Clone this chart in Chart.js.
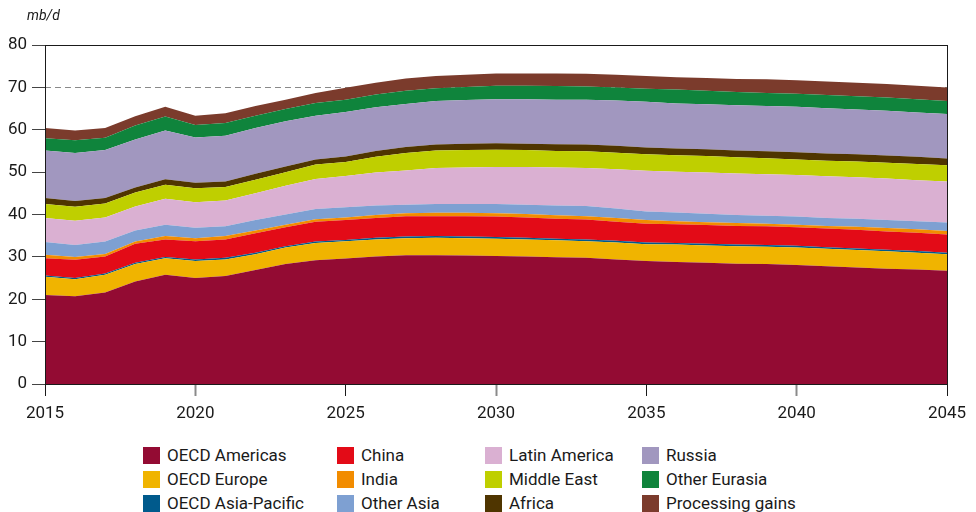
<!DOCTYPE html>
<html>
<head>
<meta charset="utf-8">
<script src="https://cdn.jsdelivr.net/npm/chart.js@4/dist/chart.umd.min.js"></script>
<style>
  body { margin: 0; background: #fff; font-family: Roboto, sans-serif; color: #1a1a1a; }
  #wrap { position: relative; width: 976px; height: 512px; }
  #chart { position: absolute; left: 0; top: 0; }
  #unit { position: absolute; left: 27px; top: 7px; font-size: 14px; font-style: italic; }
  .lg { position: absolute; display: flex; align-items: center; font-size: 17px; white-space: nowrap; }
  .lg span.sw { display: inline-block; width: 17px; height: 17px; margin-right: 7px; }
</style>
</head>
<body>
<div id="wrap">
  <canvas id="chart" width="976" height="440"></canvas>
  <div id="unit">mb/d</div>
  <div id="legend"></div>
</div>
<script>
// ─── DATA (mb/d) ───────────────────────────────────────────────────────────────
const years = [2015, 2016, 2017, 2018, 2019, 2020, 2021, 2022, 2023, 2024, 2025,
               2026, 2027, 2028, 2029, 2030, 2031, 2032, 2033, 2034, 2035,
               2036, 2037, 2038, 2039, 2040, 2041, 2042, 2043, 2044, 2045];

const oecdAmericas   = [21.0, 20.7, 21.6, 24.2, 25.8, 25.0, 25.5, 26.9, 28.3, 29.2, 29.6, 30.1, 30.4, 30.4, 30.3, 30.2, 30.1, 29.9, 29.8, 29.4, 29.0, 28.8, 28.6, 28.4, 28.3, 28.1, 27.8, 27.5, 27.2, 27.0, 26.7];
const oecdEurope     = [4.3, 4.0, 4.2, 4.1, 3.9, 4.0, 3.9, 3.7, 3.9, 4.1, 4.1, 4.0, 4.0, 4.1, 4.1, 4.1, 4.0, 4.0, 3.9, 4.0, 4.0, 4.1, 4.1, 4.1, 4.1, 4.1, 4.1, 4.1, 4.1, 4.0, 3.9];
const oecdAsiaPac    = [0.3, 0.3, 0.3, 0.3, 0.3, 0.4, 0.4, 0.4, 0.3, 0.3, 0.3, 0.4, 0.4, 0.4, 0.4, 0.4, 0.4, 0.4, 0.4, 0.4, 0.4, 0.4, 0.4, 0.4, 0.4, 0.4, 0.4, 0.4, 0.4, 0.4, 0.4];
const china          = [4.1, 4.3, 4.0, 4.5, 4.1, 4.3, 4.3, 4.6, 4.5, 4.7, 4.7, 4.7, 4.8, 4.7, 4.8, 4.8, 4.8, 4.7, 4.7, 4.5, 4.4, 4.4, 4.4, 4.4, 4.4, 4.4, 4.4, 4.4, 4.3, 4.3, 4.3];
const india          = [0.8, 0.7, 0.6, 0.5, 0.8, 0.7, 0.8, 0.6, 0.6, 0.6, 0.6, 0.7, 0.7, 0.8, 0.8, 0.8, 0.8, 0.8, 0.8, 0.9, 0.9, 0.7, 0.7, 0.7, 0.6, 0.6, 0.6, 0.7, 0.8, 0.8, 0.8];
const otherAsia      = [3.0, 2.8, 2.9, 2.6, 2.7, 2.5, 2.3, 2.5, 2.4, 2.4, 2.4, 2.2, 2.0, 2.1, 2.1, 2.2, 2.2, 2.3, 2.4, 2.2, 2.0, 2.1, 2.0, 1.9, 1.9, 1.9, 1.9, 1.9, 1.9, 1.9, 2.0];
const latinAmerica   = [5.7, 5.7, 5.7, 5.7, 6.1, 6.0, 6.1, 6.3, 6.8, 7.1, 7.4, 7.8, 8.1, 8.5, 8.6, 8.7, 8.9, 9.0, 9.0, 9.3, 9.6, 9.6, 9.7, 9.8, 9.8, 9.8, 9.8, 9.8, 9.8, 9.7, 9.7];
const middleEast     = [3.3, 3.3, 3.3, 3.3, 3.3, 3.3, 3.2, 3.2, 3.2, 3.4, 3.3, 3.7, 4.1, 4.1, 4.1, 4.1, 4.0, 3.9, 3.9, 3.9, 3.9, 3.9, 3.9, 3.8, 3.8, 3.7, 3.7, 3.7, 3.7, 3.8, 3.8];
const africa         = [1.4, 1.4, 1.3, 1.2, 1.3, 1.3, 1.3, 1.4, 1.3, 1.2, 1.3, 1.4, 1.4, 1.4, 1.5, 1.5, 1.5, 1.6, 1.6, 1.6, 1.6, 1.6, 1.6, 1.6, 1.6, 1.7, 1.7, 1.7, 1.7, 1.7, 1.6];
const russia         = [11.2, 11.3, 11.3, 11.3, 11.5, 10.7, 10.8, 10.8, 10.7, 10.3, 10.5, 10.3, 10.2, 10.3, 10.3, 10.4, 10.5, 10.5, 10.6, 10.7, 10.8, 10.6, 10.6, 10.7, 10.7, 10.7, 10.7, 10.6, 10.6, 10.5, 10.5];
const otherEurasia   = [2.9, 3.0, 2.9, 3.3, 3.3, 2.9, 3.0, 2.9, 2.9, 3.0, 2.9, 3.0, 3.1, 3.0, 3.1, 3.2, 3.2, 3.2, 3.1, 3.1, 3.1, 3.3, 3.2, 3.1, 3.1, 3.1, 3.1, 3.1, 3.1, 3.1, 3.1];
const processingGain = [2.4, 2.3, 2.3, 2.2, 2.3, 2.2, 2.3, 2.3, 2.2, 2.4, 2.8, 2.8, 2.9, 2.9, 2.9, 2.9, 2.9, 3.0, 3.0, 3.0, 3.0, 2.9, 3.0, 3.1, 3.2, 3.2, 3.2, 3.2, 3.2, 3.2, 3.2];

const yTicks = [0, 10, 20, 30, 40, 50, 60, 70, 80];
const xTicks = [2015, 2020, 2025, 2030, 2035, 2040, 2045];
const dashedAt = 70;

// ─── SERIES (stack order, bottom → top) ───────────────────────────────────────
const series = [
    { label: 'OECD Americas',     data: oecdAmericas,   color: '#930b33' },
    { label: 'OECD Europe',       data: oecdEurope,     color: '#f0b400' },
    { label: 'OECD Asia-Pacific', data: oecdAsiaPac,    color: '#005a8c' },
    { label: 'China',             data: china,          color: '#e30b17' },
    { label: 'India',             data: india,          color: '#f28c00' },
    { label: 'Other Asia',        data: otherAsia,      color: '#7ea0d2' },
    { label: 'Latin America',     data: latinAmerica,   color: '#dab0d2' },
    { label: 'Middle East',       data: middleEast,     color: '#bfcf00' },
    { label: 'Africa',            data: africa,         color: '#4f3500' },
    { label: 'Russia',            data: russia,         color: '#a197bf' },
    { label: 'Other Eurasia',     data: otherEurasia,   color: '#0f843c' },
    { label: 'Processing gains',  data: processingGain, color: '#7b3b2c' },
];

// legend is laid out in columns, 3 rows each
const legendCols = [143, 337, 485, 642];
const legendRows = [445, 469, 493];
const legendOrder = [
    ['OECD Americas', 'OECD Europe', 'OECD Asia-Pacific'],
    ['China', 'India', 'Other Asia'],
    ['Latin America', 'Middle East', 'Africa'],
    ['Russia', 'Other Eurasia', 'Processing gains'],
];

// ─── PLUGINS ──────────────────────────────────────────────────────────────────
const framePlugin = {
    id: 'frame',
    beforeDatasetsDraw(chart) {
        const { ctx, chartArea: a, scales } = chart;
        const y = Math.round(scales.y.getPixelForValue(dashedAt)) + 0.5;
        ctx.save();
        ctx.strokeStyle = '#8a8a8a';
        ctx.lineWidth = 1;
        ctx.setLineDash([6, 4]);
        ctx.beginPath();
        ctx.moveTo(a.left, y);
        ctx.lineTo(a.right, y);
        ctx.stroke();
        ctx.restore();
    },
    afterDatasetsDraw(chart) {
        const { ctx, chartArea: a } = chart;
        ctx.save();
        ctx.strokeStyle = '#1a1a1a';
        ctx.lineWidth = 1;
        ctx.strokeRect(Math.round(a.left) + 0.5, Math.round(a.top) + 0.5,
                       Math.round(a.right - a.left), Math.round(a.bottom - a.top));
        ctx.restore();
    },
};

// ─── CHART ────────────────────────────────────────────────────────────────────
const ctx = document.getElementById('chart').getContext('2d');

new Chart(ctx, {
    type: 'line',
    data: {
        datasets: series.map((s, i) => ({
            label: s.label,
            data: years.map((yr, j) => ({ x: yr, y: s.data[j] })),
            backgroundColor: s.color,
            borderColor: s.color,
            borderWidth: 0,
            pointRadius: 0,
            tension: 0,
            fill: i === 0 ? 'origin' : '-1',
        })),
    },
    options: {
        responsive: false,
        animation: false,
        layout: { padding: { top: 45, right: 29, left: 0, bottom: 0 } },
        plugins: { legend: { display: false }, tooltip: { enabled: false } },
        scales: {
            x: {
                type: 'linear',
                min: 2015,
                max: 2045,
                afterBuildTicks: (s) => { s.ticks = xTicks.map(v => ({ value: v })); },
                afterFit: (s) => { s.height = 56; },
                border: { display: false },
                grid: {
                    drawOnChartArea: false,
                    tickLength: 12,
                    tickColor: (c) => (c.tick && c.tick.value % 10 === 0 && c.tick.value !== 2045 ? '#8a8a8a' : '#1a1a1a'),
                    tickWidth: (c) => (c.tick && c.tick.value % 10 === 0 && c.tick.value !== 2045 ? 2 : 1),
                },
                ticks: {
                    color: '#1a1a1a',
                    font: { family: 'Roboto', size: 17 },
                    padding: 8,
                    maxRotation: 0,
                    callback: (v) => String(v),
                },
            },
            y: {
                stacked: true,
                min: 0,
                max: 80,
                afterBuildTicks: (s) => { s.ticks = yTicks.map(v => ({ value: v })); },
                afterFit: (s) => { s.width = 45; },
                border: { display: false },
                grid: {
                    drawOnChartArea: false,
                    tickLength: 13,
                    tickColor: '#444',
                },
                ticks: {
                    color: '#1a1a1a',
                    font: { family: 'Roboto', size: 17 },
                    padding: 5,
                },
            },
        },
    },
    plugins: [framePlugin],
});

// ─── HTML LEGEND ──────────────────────────────────────────────────────────────
const legendEl = document.getElementById('legend');
legendOrder.forEach((col, ci) => {
    col.forEach((name, ri) => {
        const s = series.find(d => d.label === name);
        const item = document.createElement('div');
        item.className = 'lg';
        item.style.left = legendCols[ci] + 'px';
        item.style.top = legendRows[ri] + 'px';
        item.innerHTML = `<span class="sw" style="background:${s.color}"></span>${s.label}`;
        legendEl.appendChild(item);
    });
});
</script>
</body>
</html>
